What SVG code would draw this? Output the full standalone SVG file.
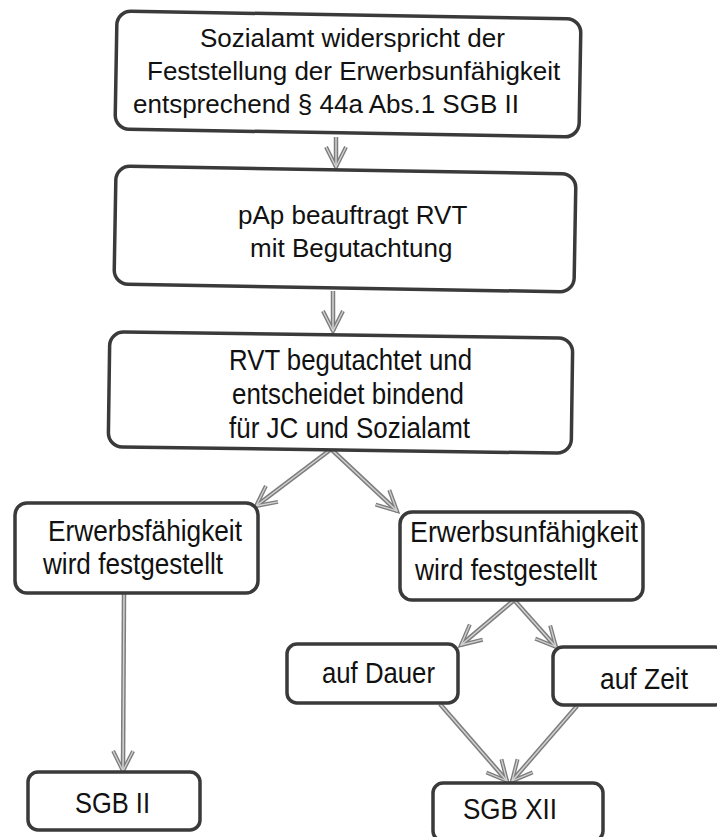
<svg xmlns="http://www.w3.org/2000/svg" width="717" height="837" viewBox="0 0 717 837">
<style>
.box{fill:#fff;stroke:#3a3a3a;stroke-width:3.5}
.t{font-family:"Liberation Sans",Arial,sans-serif;font-size:26px;fill:#111}
.n{font-family:"Liberation Sans",Arial,sans-serif;font-size:29px;fill:#111}
.conn{stroke:#7d7d7d;stroke-width:4.5;fill:none}
.conn2{stroke:#d2d2d2;stroke-width:1.5;fill:none}
</style>
<defs>
<marker id="ah" markerUnits="userSpaceOnUse" viewBox="-24 -14 28 28" refX="0" refY="0" markerWidth="28" markerHeight="28" orient="auto">
<path d="M-20,-10 L0,0 L-20,10" stroke="#7d7d7d" stroke-width="4" fill="none" stroke-linejoin="miter"/>
<path d="M-20,-10 L0,0 L-20,10" stroke="#d2d2d2" stroke-width="1.3" fill="none"/>
</marker>
</defs>
<rect width="717" height="837" fill="#fff"/>
<g id="connectors">
<line class="conn" x1="336" y1="137" x2="336" y2="167" marker-end="url(#ah)"/>
<line class="conn" x1="333" y1="291" x2="333" y2="331" marker-end="url(#ah)"/>
<line class="conn" x1="330" y1="450" x2="256" y2="506" marker-end="url(#ah)"/>
<line class="conn" x1="332" y1="450" x2="397" y2="511" marker-end="url(#ah)"/>
<line class="conn" x1="124" y1="594" x2="123" y2="771" marker-end="url(#ah)"/>
<line class="conn" x1="513" y1="601" x2="461" y2="645" marker-end="url(#ah)"/>
<line class="conn" x1="515" y1="601" x2="556" y2="647" marker-end="url(#ah)"/>
<line class="conn" x1="440" y1="704" x2="507" y2="781" marker-end="url(#ah)"/>
<line class="conn" x1="577" y1="706" x2="512" y2="781" marker-end="url(#ah)"/>
<line class="conn2" x1="336" y1="137" x2="336" y2="167"/>
<line class="conn2" x1="333" y1="291" x2="333" y2="331"/>
<line class="conn2" x1="330" y1="450" x2="256" y2="506"/>
<line class="conn2" x1="332" y1="450" x2="397" y2="511"/>
<line class="conn2" x1="124" y1="594" x2="123" y2="771"/>
<line class="conn2" x1="513" y1="601" x2="461" y2="645"/>
<line class="conn2" x1="515" y1="601" x2="556" y2="647"/>
<line class="conn2" x1="440" y1="704" x2="507" y2="781"/>
<line class="conn2" x1="577" y1="706" x2="512" y2="781"/>
</g>
<g id="n1">
<rect class="box" x="116" y="15" width="464" height="118" rx="14" transform="rotate(1 348 74)"/>
<text class="t" x="200" y="47">Sozialamt widerspricht der</text>
<text class="t" x="147" y="80">Feststellung der Erwerbsunfähigkeit</text>
<text class="t" x="133" y="113">entsprechend § 44a Abs.1 SGB II</text>
</g>
<g id="n2">
<rect class="box" x="115" y="170" width="460" height="118" rx="14" transform="rotate(1 345 229)"/>
<text class="t" x="238" y="224">pAp beauftragt RVT</text>
<text class="t" x="250" y="257">mit Begutachtung</text>
</g>
<g id="n3">
<rect class="box" x="109" y="335" width="463" height="115" rx="14" transform="rotate(0.8 340 392)"/>
<text class="n" x="229" y="370" textLength="243" lengthAdjust="spacingAndGlyphs">RVT begutachtet und</text>
<text class="n" x="232" y="404" textLength="232" lengthAdjust="spacingAndGlyphs">entscheidet bindend</text>
<text class="n" x="229" y="438" textLength="241" lengthAdjust="spacingAndGlyphs">für JC und Sozialamt</text>
</g>
<g id="n4">
<rect class="box" x="15" y="503" width="243" height="90" rx="12"/>
<text class="n" x="48" y="541" textLength="194" lengthAdjust="spacingAndGlyphs">Erwerbsfähigkeit</text>
<text class="n" x="43" y="574" textLength="180" lengthAdjust="spacingAndGlyphs">wird festgestellt</text>
</g>
<g id="n5">
<rect class="box" x="400" y="512" width="243" height="88" rx="12"/>
<text class="n" x="410" y="542" textLength="228" lengthAdjust="spacingAndGlyphs">Erwerbsunfähigkeit</text>
<text class="n" x="415" y="580" textLength="182" lengthAdjust="spacingAndGlyphs">wird festgestellt</text>
</g>
<g id="n6">
<rect class="box" x="287" y="644" width="171" height="59" rx="10"/>
<text class="n" x="322" y="683" textLength="113" lengthAdjust="spacingAndGlyphs">auf Dauer</text>
</g>
<g id="n7">
<rect class="box" x="553" y="647" width="172" height="58" rx="10"/>
<text class="n" x="600" y="689" textLength="88" lengthAdjust="spacingAndGlyphs">auf Zeit</text>
</g>
<g id="n8">
<rect class="box" x="28" y="772" width="172" height="58" rx="10"/>
<text class="n" x="75" y="813" textLength="75" lengthAdjust="spacingAndGlyphs">SGB II</text>
</g>
<g id="n9">
<rect class="box" x="433" y="783" width="170" height="58" rx="10"/>
<text class="n" x="463" y="819" textLength="94" lengthAdjust="spacingAndGlyphs">SGB XII</text>
</g>
</svg>
